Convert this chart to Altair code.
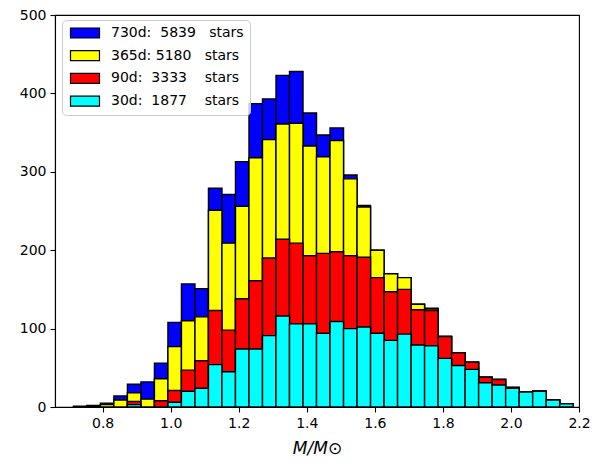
import altair as alt
import pandas as pd

# Histogram bins
BIN_START = 0.714
BIN_WIDTH = 0.0397

series_labels = [
    "730d:\u00a0\u00a05839\u00a0\u00a0\u00a0stars",
    "365d:\u00a05180\u00a0\u00a0\u00a0stars",
    "90d:\u00a0\u00a03333\u00a0\u00a0\u00a0\u00a0stars",
    "30d:\u00a0\u00a01877\u00a0\u00a0\u00a0\u00a0stars",
]
series_colors = ["#0000ff", "#ffff00", "#ff0000", "#00ffff"]

counts_730 = [1, 2, 5, 14, 29, 32, 56, 108, 157, 151, 279, 271, 313, 387, 393, 423, 428, 375, 347,
              356, 296, 257, 200, 170, 165, 131, 126, 90, 69, 57, 38, 35, 25, 19, 20, 9, 4]
counts_365 = [0, 1, 3, 9, 18, 10, 36, 77, 110, 115, 251, 209, 256, 318, 341, 361, 362, 333, 319,
              340, 291, 255, 200, 170, 165, 131, 125, 90, 69, 57, 38, 35, 25, 19, 20, 9, 4]
counts_90 = [0, 0, 0, 0, 7, 0, 8, 21, 47, 59, 123, 98, 138, 161, 190, 214, 209, 193, 196,
             198, 193, 191, 165, 147, 150, 124, 123, 90, 69, 57, 38, 35, 25, 19, 20, 9, 4]
counts_30 = [0, 0, 0, 0, 3, 0, 0, 6, 20, 24, 54, 45, 74, 74, 91, 116, 106, 106, 94,
             109, 100, 102, 94, 85, 93, 79, 78, 62, 53, 48, 31, 28, 24, 19, 20, 9, 4]

x_ticks = [0.8, 1.0, 1.2, 1.4, 1.6, 1.8, 2.0, 2.2]
y_ticks = [0, 100, 200, 300, 400, 500]

rows = []
for label, counts in zip(series_labels, [counts_730, counts_365, counts_90, counts_30]):
    for i, c in enumerate(counts):
        if c > 0:
            rows.append({
                "series": label,
                "x0": BIN_START + i * BIN_WIDTH,
                "x1": BIN_START + (i + 1) * BIN_WIDTH,
                "count": c,
                "base": 0,
            })
df = pd.DataFrame(rows)

FONT = "DejaVu Sans"

color = alt.Color(
    "series:N",
    scale=alt.Scale(domain=series_labels, range=series_colors),
    legend=alt.Legend(
        title=None,
        orient="none",
        legendX=7,
        legendY=5,
        symbolType="M-2.9,-1H2.9V1H-2.9Z",
        symbolSize=100,
        symbolOffset=10,
        symbolStrokeColor="black",
        symbolStrokeWidth=1.2,
        symbolOpacity=1,
        labelOffset=19,
        labelFont=FONT,
        labelFontSize=14,
        labelColor="black",
        labelLimit=400,
        rowPadding=6.7,
        padding=6,
        fillColor="rgba(255,255,255,0.8)",
        strokeColor="#cccccc",
        cornerRadius=4,
    ),
)

base = alt.Chart(df).mark_bar(stroke="black", strokeWidth=1.4, opacity=1).encode(
    x=alt.X(
        "x0:Q",
        scale=alt.Scale(domain=[0.66, 2.2], nice=False, zero=False),
        axis=alt.Axis(
            values=x_ticks, format=".1f", title="M/M\u2299", labelFlush=False,
            titleFont=FONT, titleFontStyle="italic", titleFontSize=17,
            titleFontWeight="normal", titleColor="black", titlePadding=10,
        ),
    ),
    x2="x1:Q",
    y=alt.Y(
        "count:Q",
        scale=alt.Scale(domain=[0, 500], nice=False),
        axis=alt.Axis(values=y_ticks, title=None, labelFlush=False),
    ),
    y2="base:Q",
    color=color,
)

layers = [base.transform_filter(alt.FieldEqualPredicate(field="series", equal=s)) for s in series_labels]

chart = alt.layer(*layers).properties(
    width=524,
    height=392,
    padding={"left": 47, "top": 7, "right": 11, "bottom": 49},
    autosize=alt.AutoSizeParams(type="none"),
).configure_view(
    stroke="black", strokeWidth=1.1
).configure_axis(
    grid=False,
    labelFont=FONT,
    labelFontSize=14,
    labelColor="black",
    tickColor="black",
    tickSize=5,
    tickWidth=1.1,
    domainColor="black",
    domainWidth=1.1,
    labelPadding=4,
)

chart.save("out.html", embed_options={"renderer": "svg", "actions": False})
